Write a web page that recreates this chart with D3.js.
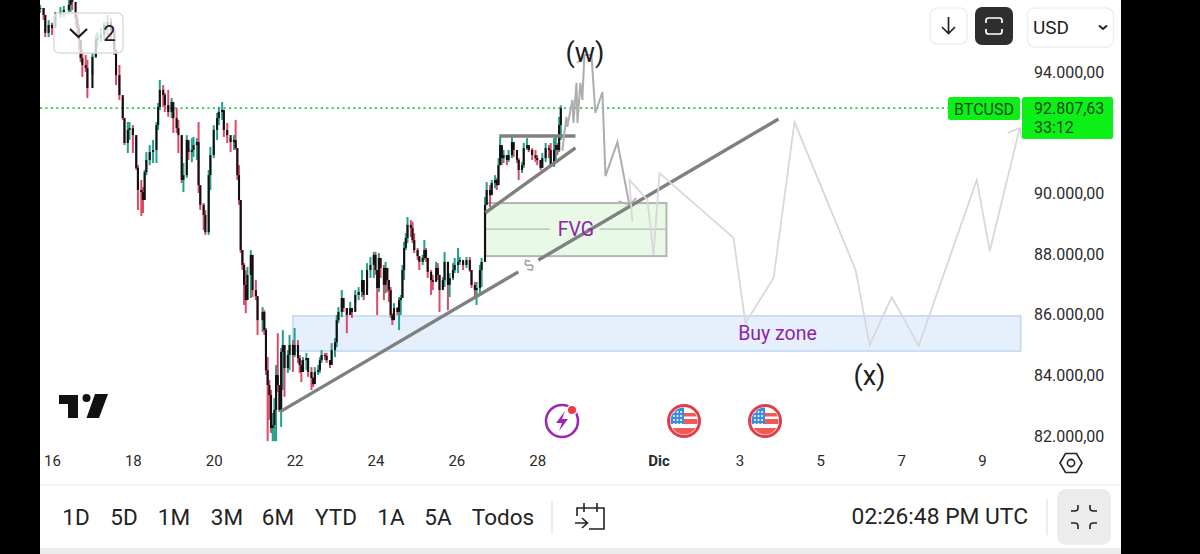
<!DOCTYPE html>
<html>
<head>
<meta charset="utf-8">
<script src="https://cdn.jsdelivr.net/npm/d3@7"></script>
<style>
  html, body { margin: 0; padding: 0; background: #fff; }
  svg { display: block; font-family: Roboto, sans-serif; }
</style>
</head>
<body>
<svg id="chart" width="1200" height="554"></svg>
<script>
// BTCUSD hourly candles. Hours count from 15 Nov 00:00 UTC, prices are in thousands of USD.
const candleHours = [
  17,19,20,22,24,26,29,31,34,35,36,38,39,40,41,42,44,45,48,50,51,53,55,57,59,61,62,64,66,67,69,70,72,74,75,77,78,79,80,82,84,86,87,88,90,91,93,95,96,98,99,101,102,104,105,107,108,110,111,112,114,115,117,118,120,122,123,125,126,128,130,132,133,134,
  135,136,137,138,139,140,142,143,145,146,149,150,151,152,153,154,155,156,157,158,159,160,161,162,164,165,167,168,170,171,172,173,175,176,178,179,180,182,183,184,186,187,189,190,192,193,194,196,197,199,
  201,202,204,206,208,209,211,213,215,216,217,218,219,221,222,223,224,225,226,227,229,230,231,232,233,234,235,237,238,239,241,242,244,245,246,247,249,250,252,253,254,256,257,259,260,262,263,265,266,268,270,272,273,275,276,278,279,
  281,282,284,285,287,288,289,290,291,292,294,295,297,298,300,301,303,304,306,307,309,311,312,314,315,317,319,320,322,323,324,325,326
];
const candleHighs = [
  96.21,96.11,95.88,95.71,95.62,95.98,96.14,96.18,96.37,96.54,96.54,95.98,95.88,95.55,95.06,94.73,94.56,94.4,94.63,95.22,95.32,95.45,95.65,95.88,95.78,95.29,94.66,94.23,93.14,92.48,92.35,92.35,92.25,91.92,90.93,90.44,90.21,90.77,91.36,91.59,91.76,92.35,92.98,93.74,93.57,93.31,93.41,93.14,92.85,92.81,92.42,91.92,91.0,91.92,91.49,91.82,91.86,91.82,92.35,90.27,89.68,89.45,90.77,91.53,92.25,92.65,92.85,93.01,92.75,92.32,91.82,91.92,92.42,91.49,
  90.93,89.78,88.13,87.7,87.47,87.57,88.13,87.97,87.14,86.61,86.25,86.15,85.56,84.6,83.85,83.52,82.76,83.25,84.34,85.39,83.68,84.9,85.49,85.0,84.83,85.33,85.16,85.56,85.16,84.67,84.5,84.6,84.74,84.57,84.27,83.95,84.27,84.34,84.6,84.83,84.74,84.74,84.5,85.06,85.23,85.99,86.25,86.81,86.55,86.22,
  86.42,86.22,86.81,86.91,87.47,87.14,87.7,87.9,88.07,88.07,87.47,88.03,87.87,87.64,87.74,87.54,87.14,86.91,86.05,86.38,86.25,86.58,86.65,87.64,88.4,88.69,89.22,89.12,89.06,88.69,88.2,87.9,87.97,88.46,88.2,87.87,87.47,87.31,87.74,87.7,87.31,87.24,88.07,87.37,87.37,87.7,87.87,88.2,87.9,87.74,87.9,87.9,87.47,87.08,87.08,87.64,87.87,
  89.88,90.37,90.27,90.44,90.6,90.51,91.16,91.86,91.53,91.43,91.26,91.43,91.86,91.66,91.43,91.16,91.03,91.66,91.82,91.59,91.49,91.43,91.26,91.1,91.33,91.66,91.59,91.66,91.82,91.86,91.66,92.52,92.9
];
const candleLows = [
  95.95,95.71,95.15,95.15,95.22,95.55,95.78,95.81,95.98,95.98,96.04,95.55,95.22,94.73,94.33,93.84,94.0,93.14,93.9,94.46,94.82,94.99,95.06,95.22,95.06,94.56,93.57,93.08,92.42,91.59,91.33,91.76,91.33,90.77,89.45,89.25,89.35,89.78,90.6,90.93,91.0,91.0,92.09,92.75,92.85,92.68,92.52,92.48,91.99,91.99,91.33,90.34,90.04,90.51,91.1,91.03,91.2,91.1,90.01,89.45,88.79,88.63,88.63,90.11,91.16,91.76,92.25,92.42,91.86,91.66,91.36,91.43,91.43,90.44,
  89.62,88.03,87.47,86.32,86.05,86.48,86.55,86.58,86.48,85.33,85.43,85.33,84.01,81.83,82.53,82.1,81.83,81.83,81.83,83.45,82.79,82.3,83.52,83.29,84.08,84.17,84.11,84.6,84.41,84.08,83.78,84.17,84.17,83.95,83.52,83.61,83.75,84.01,84.08,84.41,84.5,84.41,84.24,84.41,84.6,84.93,85.72,85.92,86.09,85.39,
  86.05,85.89,86.38,86.48,86.58,86.48,86.91,87.21,87.21,87.31,85.99,86.75,87.21,86.48,86.71,86.75,86.42,85.89,85.66,85.82,85.99,85.49,85.99,86.58,87.14,88.13,88.36,88.56,88.36,88.03,87.8,87.47,87.64,87.8,87.74,87.21,86.65,86.81,87.24,87.14,86.09,86.88,86.91,86.15,86.58,87.14,87.37,87.37,87.64,87.47,87.54,87.41,86.88,86.58,86.32,86.65,86.91,
  87.74,89.62,89.55,89.94,90.17,90.11,90.27,90.93,90.93,91.0,90.93,91.03,91.16,91.2,91.0,90.44,90.67,90.84,91.43,91.36,91.1,91.03,90.93,90.77,90.84,91.03,91.16,90.87,90.87,91.1,91.26,91.36,91.76
];
const candleCloses = [
  96.11,95.88,95.29,95.55,95.45,95.88,95.98,96.04,96.21,96.37,96.31,95.78,95.45,95.06,94.46,94.23,94.13,93.47,94.5,95.06,95.12,95.22,95.55,95.65,95.36,94.73,93.9,93.24,92.48,91.66,92.09,92.15,91.92,90.84,90.11,90.04,89.78,90.7,91.1,91.36,91.43,92.25,92.85,93.41,93.24,92.91,92.68,93.01,92.48,92.15,91.92,90.44,90.6,91.76,91.36,91.43,91.59,91.69,90.27,89.62,89.29,88.72,90.6,91.26,92.09,92.48,92.68,92.75,92.09,91.92,91.69,91.76,91.49,90.6,
  89.78,88.13,87.64,86.98,86.48,87.31,87.97,86.81,86.61,85.82,86.09,85.49,84.17,83.68,83.35,82.26,82.36,82.86,84.01,83.68,82.86,84.77,85.0,84.24,84.67,85.0,84.67,85.0,84.57,84.34,84.11,84.5,84.57,84.11,83.91,83.71,84.11,84.17,84.5,84.67,84.64,84.5,84.34,84.83,85.09,85.82,86.09,86.55,86.22,85.99,
  86.22,86.09,86.65,86.75,87.14,86.65,87.47,87.64,87.97,87.47,86.88,87.87,87.54,86.98,87.54,87.14,86.81,85.99,85.82,86.22,86.09,86.48,86.55,87.47,88.2,88.53,88.96,88.86,88.46,88.13,87.93,87.74,87.87,88.13,87.87,87.41,87.14,87.08,87.54,87.31,86.81,87.14,87.74,86.98,87.21,87.47,87.64,87.74,87.8,87.64,87.8,87.47,86.98,86.81,86.88,87.47,87.74,
  89.62,90.11,89.94,90.34,90.44,90.27,90.93,91.59,91.16,91.26,91.1,91.26,91.69,91.43,91.1,90.77,90.93,91.49,91.59,91.43,91.26,91.16,91.1,90.84,91.16,91.49,91.43,90.93,91.43,91.59,91.43,92.25,92.80763
];
const lastPrice = 92807.63;
// The 92.000,00 level lies under the last price tag, so it gets no label.
const priceTicks = [82000, 84000, 86000, 88000, 90000, 94000];
const dateTicks = [
  [2024, 10, 16], [2024, 10, 18], [2024, 10, 20], [2024, 10, 22], [2024, 10, 24], [2024, 10, 26],
  [2024, 10, 28], [2024, 11, 1], [2024, 11, 3], [2024, 11, 5], [2024, 11, 7], [2024, 11, 9]
];
const rangeButtons = ["1D", "5D", "1M", "3M", "6M", "YTD", "1A", "5A", "Todos"];

// Hand-drawn annotations, each point as [hour, price in thousands].
const mainTrendLow = [[160, 82.82], [300.8, 87.41]];
const mainTrendHigh = [[312.7, 87.8], [455.2, 92.45]];
const flatResistance = [[289.5, 91.89], [334.7, 91.89]];
const risingSupport = [[281.2, 89.36], [334.7, 91.5]];
const fvgZone = { hours: [281.2, 388.7], prices: [89.68, 87.93] };
const fvgMidPrice = 88.82;
const fvgMidGaps = [[281.2, 319.5], [349, 388.7]];
const buyZone = { hours: [167, 599], prices: [85.96, 84.8] };
const projectionFirst = [
  [326.9, 91.4], [329.3, 92.52], [329.9, 92.19], [332.9, 93.08], [333.5, 92.32], [335.3, 93.64],
  [335.9, 92.32], [337.6, 93.64], [338.8, 93.08], [340, 94.56], [344.2, 94.56], [346.5, 92.65],
  [350.7, 93.34], [352.5, 90.57], [359.6, 91.69], [366.7, 89.62]
];
const projectionFirstTip = [[360.2, 89.75], [366.7, 89.62], [370.9, 89.85]];
const projectionPeakTip = [[335.5, 94.3], [340.3, 94.52]];
const projectionSecond = [
  [368.5, 89.05], [366.7, 90.44], [377.4, 89.78], [381, 87.97], [384.6, 90.67], [428.5, 88.53],
  [435.6, 85.73], [452.3, 87.21], [464.7, 92.35], [501, 87.47], [509.3, 85.0], [522.4, 86.58],
  [538.4, 84.97], [572.9, 90.44], [580.6, 88.1], [598.4, 92.15]
];
const projectionSecondTip = [[591.3, 91.99], [598.4, 92.15], [599.6, 91.79]];

const startOfData = Date.UTC(2024, 10, 15);
const hourToDate = h => new Date(startOfData + h * 3600e3);

const x = d3.scaleUtc()
  .domain([new Date(Date.UTC(2024, 10, 16)), new Date(Date.UTC(2024, 11, 9))])
  .range([52, 982]);
const y = d3.scaleLinear().domain([82000, 94000]).range([436, 72]);
const px = h => x(hourToDate(h));
const py = k => y(k * 1000);
const annotationLine = d3.line().x(d => px(d[0])).y(d => py(d[1]));

const svg = d3.select("#chart");
const GREEN = "#0cf018", INK = "#1d1d1f", PURPLE = "#8e24aa";

svg.append("rect").attr("width", 1200).attr("height", 554).attr("fill", "#fff");

// Zones sit beneath the candles.
svg.append("rect")
  .attr("x", px(buyZone.hours[0])).attr("y", py(buyZone.prices[0]))
  .attr("width", px(buyZone.hours[1]) - px(buyZone.hours[0]))
  .attr("height", py(buyZone.prices[1]) - py(buyZone.prices[0]))
  .attr("fill", "#e6f0fc").attr("stroke", "#bcd5f3").attr("stroke-width", 1.4);

svg.append("rect")
  .attr("x", px(fvgZone.hours[0])).attr("y", py(fvgZone.prices[0]))
  .attr("width", px(fvgZone.hours[1]) - px(fvgZone.hours[0]))
  .attr("height", py(fvgZone.prices[1]) - py(fvgZone.prices[0]))
  .attr("fill", "#e8f9e8").attr("stroke", "#b2b6b2").attr("stroke-width", 2);

fvgMidGaps.forEach(g => {
  svg.append("line")
    .attr("x1", px(g[0])).attr("x2", px(g[1]))
    .attr("y1", py(fvgMidPrice)).attr("y2", py(fvgMidPrice))
    .attr("stroke", "#b4b8b4").attr("stroke-width", 1.4);
});

// Last price line.
svg.append("line")
  .attr("x1", 40).attr("x2", 948)
  .attr("y1", y(lastPrice)).attr("y2", y(lastPrice))
  .attr("stroke", "#30c94a").attr("stroke-width", 1.6).attr("stroke-dasharray", "2.2 3.2");

// Candles: coloured wicks with black bodies, each opening at the previous close.
const candles = d3.zip(candleHours, candleHighs, candleLows, candleCloses).map((r, i, all) => ({
  hour: r[0], high: r[1], low: r[2], close: r[3], open: i ? all[i - 1][3] : r[3]
}));
const candleG = svg.append("g");
candleG.selectAll("line").data(candles).join("line")
  .attr("x1", d => px(d.hour)).attr("x2", d => px(d.hour))
  .attr("y1", d => py(d.high)).attr("y2", d => py(d.low))
  .attr("stroke", d => d.close >= d.open ? "#239f8a" : "#dd4a66")
  .attr("stroke-width", 2);
candleG.selectAll("rect").data(candles).join("rect")
  .attr("x", d => px(d.hour) - 1.05).attr("width", 2.1)
  .attr("y", d => Math.min(py(d.open), py(d.close)))
  .attr("height", d => Math.max(1, Math.abs(py(d.open) - py(d.close))))
  .attr("fill", "#111");

// Trend lines.
[mainTrendLow, mainTrendHigh, flatResistance, risingSupport].forEach(seg => {
  svg.append("path").attr("d", annotationLine(seg))
    .attr("fill", "none").attr("stroke", "#808080").attr("stroke-width", 3.4);
});
const dollarAnchor = [mainTrendLow[1], mainTrendHigh[0]];
svg.append("text")
  .attr("transform", `translate(${(px(dollarAnchor[0][0]) + px(dollarAnchor[1][0])) / 2 + 0.5},${(py(dollarAnchor[0][1]) + py(dollarAnchor[1][1])) / 2 - 0.5}) rotate(-32)`)
  .attr("text-anchor", "middle").attr("dominant-baseline", "central")
  .attr("font-size", 15).attr("fill", "#9a9a9a").text("$");

// Projected path.
const strokePath = (pts, color, width) => svg.append("path")
  .attr("d", annotationLine(pts)).attr("fill", "none")
  .attr("stroke", color).attr("stroke-width", width).attr("stroke-linejoin", "miter");
strokePath(projectionSecond, "#d8d8d8", 1.8);
strokePath(projectionSecondTip, "#d8d8d8", 1.8);
strokePath(projectionFirst, "#adadad", 2);
strokePath(projectionFirstTip, "#b0b0b0", 1.5);
strokePath(projectionPeakTip, "#adadad", 1.5);

const label = (xp, yp, txt, size, color, anchor, weight) => svg.append("text")
  .attr("x", xp).attr("y", yp).attr("font-size", size).attr("fill", color)
  .attr("text-anchor", anchor || "middle").attr("dominant-baseline", "central")
  .attr("font-weight", weight || 400).text(txt);

label((px(fvgZone.hours[0]) + px(fvgZone.hours[1])) / 2, py(fvgMidPrice), "FVG", 19.5, PURPLE);
label(777.5, py(85.38), "Buy zone", 19.5, PURPLE);
label(585, 53, "(w)", 27, INK);
label(869.5, 376, "(x)", 27, INK);

// Price axis on the right.
const priceFormat = v => d3.format(",.2f")(v).replace(/,/g, "#").replace(".", ",").replace(/#/g, ".");
const yAxis = d3.axisRight(y).tickValues(priceTicks).tickSize(0).tickPadding(0).tickFormat(priceFormat);
const yG = svg.append("g").attr("transform", "translate(1034,0)").call(yAxis);
yG.select(".domain").remove();
yG.selectAll("text").attr("font-size", 16).attr("font-family", "Roboto, sans-serif").attr("fill", "#2a2a2a");

// Time axis along the bottom.
const tickDates = dateTicks.map(d => new Date(Date.UTC(d[0], d[1], d[2])));
const xAxis = d3.axisBottom(x).tickValues(tickDates).tickSize(0).tickPadding(0)
  .tickFormat(d => d.getUTCDate() === 1 ? "Dic" : String(d.getUTCDate()));
const xG = svg.append("g").attr("transform", "translate(0,455)").call(xAxis);
xG.select(".domain").remove();
xG.selectAll("text").attr("font-size", 15).attr("font-family", "Roboto, sans-serif").attr("fill", "#2a2a2a")
  .attr("font-weight", d => d.getUTCDate() === 1 ? 700 : 400);

// Last price tags.
svg.append("rect").attr("x", 948).attr("y", 97).attr("width", 72).attr("height", 23).attr("rx", 2.5).attr("fill", GREEN);
svg.append("rect").attr("x", 1022).attr("y", 97).attr("width", 91).attr("height", 42).attr("rx", 2.5).attr("fill", GREEN);
label(984, 109, "BTCUSD", 16, "#0d4a12");
label(1034, 108, priceFormat(lastPrice), 16, "#0d4a12", "start");
label(1034, 127, "33:12", 16, "#0d4a12", "start");

// Logo.
svg.append("path").attr("d", "M59 395H78V418H68V404H59Z M95 394H108L99 418H86.5Z").attr("fill", "#111");
svg.append("circle").attr("cx", 86.5).attr("cy", 398).attr("r", 4).attr("fill", "#111");

// Event markers on the time scale.
const eventG = svg.append("g");
eventG.append("circle").attr("cx", 562).attr("cy", 421).attr("r", 16).attr("fill", "#fff")
  .attr("stroke", "#9c27b0").attr("stroke-width", 2.6);
eventG.append("path").attr("d", "M565 411L556 423H562L559 431L568 419H562Z").attr("fill", "#9c27b0");
eventG.append("circle").attr("cx", 572).attr("cy", 410).attr("r", 5.5).attr("fill", "#fff");
eventG.append("circle").attr("cx", 572).attr("cy", 410).attr("r", 4).attr("fill", "#f0394a");

const defs = svg.append("defs");
[684, 765].forEach((cx, i) => {
  const cy = 421;
  defs.append("clipPath").attr("id", "flagClip" + i).append("circle").attr("cx", cx).attr("cy", cy).attr("r", 13.5);
  const g = svg.append("g");
  g.append("circle").attr("cx", cx).attr("cy", cy).attr("r", 15.5).attr("fill", "#fff")
    .attr("stroke", "#e23d4b").attr("stroke-width", 3);
  const flag = g.append("g").attr("clip-path", `url(#flagClip${i})`);
  flag.append("rect").attr("x", cx - 14).attr("y", cy - 14).attr("width", 14).attr("height", 17).attr("fill", "#3d8bdc");
  flag.append("rect").attr("x", cx).attr("y", cy - 8).attr("width", 14).attr("height", 3.5).attr("fill", "#ee5a55");
  flag.append("rect").attr("x", cx).attr("y", cy - 2).attr("width", 14).attr("height", 5).attr("fill", "#ee5a55");
  flag.append("rect").attr("x", cx - 14).attr("y", cy + 7).attr("width", 28).attr("height", 7).attr("fill", "#ee5a55");
  [-9, -5, -1, 3].forEach(dy => [-10, -6.5, -3].forEach(dx => {
    flag.append("circle").attr("cx", cx + dx).attr("cy", cy + dy).attr("r", 1).attr("fill", "#fff");
  }));
});

// Settings hexagon by the time scale.
svg.append("path").attr("d", "M1060 463L1065.5 453.5H1076.5L1082 463L1076.5 472.5H1065.5Z")
  .attr("fill", "none").attr("stroke", "#222").attr("stroke-width", 1.6);
svg.append("circle").attr("cx", 1071).attr("cy", 463).attr("r", 3.6).attr("fill", "none").attr("stroke", "#222").attr("stroke-width", 1.6);

// Collapsed indicators pill, translucent over the candles.
svg.append("rect").attr("x", 54).attr("y", 13).attr("width", 69).attr("height", 40).attr("rx", 5)
  .attr("fill", "rgba(255,255,255,0.76)").attr("stroke", "#dcdcdc").attr("stroke-width", 1.5);
svg.append("path").attr("d", "M70 29L78.5 37L87 29").attr("fill", "none").attr("stroke", "#1b1b1b").attr("stroke-width", 2.2);
label(109.5, 33, "2", 22, "#1d1d1d");

// Top right controls.
svg.append("rect").attr("x", 930).attr("y", 8).attr("width", 37).attr("height", 36).attr("rx", 7)
  .attr("fill", "#fff").attr("stroke", "#eeeeee").attr("stroke-width", 1.5);
svg.append("path").attr("d", "M948.5 17V33M942 27L948.5 33.5L955 27").attr("fill", "none").attr("stroke", "#222").attr("stroke-width", 1.7);
svg.append("rect").attr("x", 975).attr("y", 7).attr("width", 38).attr("height", 38).attr("rx", 7).attr("fill", "#2e2e2e");
svg.append("path").attr("d", "M986 23V20.5Q986 18 988.5 18H999.5Q1002 18 1002 20.5V23M986 29V31.5Q986 34 988.5 34H999.5Q1002 34 1002 31.5V29")
  .attr("fill", "none").attr("stroke", "#fff").attr("stroke-width", 1.7);
svg.append("rect").attr("x", 1027.5).attr("y", 8).attr("width", 86).attr("height", 39).attr("rx", 7)
  .attr("fill", "#fff").attr("stroke", "#eeeeee").attr("stroke-width", 1.5);
label(1033, 27, "USD", 19, "#1f1f1f", "start");
svg.append("path").attr("d", "M1099 25.5L1103 29L1107 25.5").attr("fill", "none").attr("stroke", "#222").attr("stroke-width", 2);

// Bottom toolbar.
svg.append("line").attr("x1", 40).attr("x2", 1121).attr("y1", 485).attr("y2", 485).attr("stroke", "#eeeeee").attr("stroke-width", 1.6);
svg.append("rect").attr("x", 40).attr("y", 548).attr("width", 1081).attr("height", 6).attr("fill", "#ebebeb");
const rangeCenters = [76, 124, 174, 227, 278, 336, 391, 438, 503];
rangeButtons.forEach((t, i) => label(rangeCenters[i], 517, t, 22.5, "#232323"));
svg.append("line").attr("x1", 552).attr("x2", 552).attr("y1", 500).attr("y2", 534).attr("stroke", "#e6e6e6").attr("stroke-width", 1.4);
svg.append("path").attr("d", "M577 516V508H604V529H589M584 503V512M597 503V512")
  .attr("fill", "none").attr("stroke", "#222").attr("stroke-width", 1.6);
svg.append("path").attr("d", "M575 523H587M582 518L587.5 523L582 528").attr("fill", "none").attr("stroke", "#222").attr("stroke-width", 1.6);
label(1028, 516, "02:26:48 PM UTC", 22.8, "#232323", "end");
svg.append("line").attr("x1", 1047).attr("x2", 1047).attr("y1", 499).attr("y2", 535).attr("stroke", "#e6e6e6").attr("stroke-width", 1.4);
svg.append("rect").attr("x", 1057).attr("y", 489).attr("width", 54).attr("height", 56).attr("rx", 9).attr("fill", "#ececec");
svg.append("path").attr("d", "M1078 505V508Q1078 511 1074.5 511H1071M1090 505V508Q1090 511 1093.5 511H1097M1078 529V526Q1078 523 1074.5 523H1071M1090 529V526Q1090 523 1093.5 523H1097")
  .attr("fill", "none").attr("stroke", "#222").attr("stroke-width", 1.6);

// Device bars at both sides.
svg.append("rect").attr("x", 0).attr("y", 0).attr("width", 40).attr("height", 554).attr("fill", "#000");
svg.append("rect").attr("x", 1121).attr("y", 0).attr("width", 79).attr("height", 554).attr("fill", "#000");
</script>
</body>
</html>
